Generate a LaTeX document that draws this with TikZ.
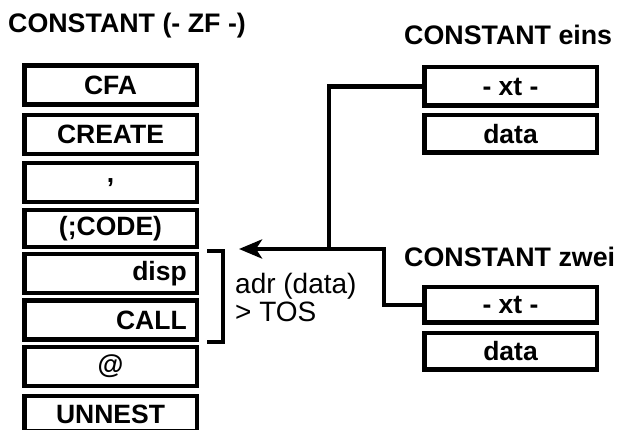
\documentclass[tikz,border=0pt]{standalone}
\usepackage{fontspec}
\setmainfont{Liberation Sans}
\usetikzlibrary{arrows.meta}
\begin{document}
\begin{tikzpicture}[x=1pt,y=-1pt,
  cell/.style={draw=black,fill=white,line width=4.5pt,minimum width=172.5pt,minimum height=39pt,
    inner sep=0pt,font=\fontsize{26.5}{30}\selectfont\bfseries},
  rcell/.style={cell,text width=152.5pt,inner xsep=10pt,align=right},
  title/.style={anchor=base west,inner sep=0pt,font=\fontsize{26.8}{30}\selectfont\bfseries},
  note/.style={anchor=base west,inner sep=0pt,font=\fontsize{28}{32}\selectfont},
  wire/.style={line width=4.5pt,line cap=butt,line join=miter}]
\clip (0,0) rectangle (622,430);
\fill[white] (0,0) rectangle (622,430);
% left column
\node[cell] (cfa) at (110.5,85) {CFA};
\node[cell] (create) at (110.5,134.5) {CREATE};
\node[cell] (comma) at (110.5,182.5) {,};
\node[cell,minimum height=37pt] (code) at (110.5,228.5) {(;CODE)};
\node[rcell] (disp) at (110.5,273.5) {disp};
\node[rcell] (call) at (110.5,320) {CALL};
\node[cell] (at) at (110.5,366.5) {@};
\node[cell,minimum height=35.5pt] (unnest) at (110.5,414) {UNNEST};
% titles
\node[title] (t1) at (8,33) {CONSTANT (- ZF -)};
\node[title] (t2) at (404,45) {CONSTANT eins};
\node[title] (t3) at (404,267) {CONSTANT zwei};
% right boxes
\node[cell,minimum height=38.5pt] (xt1) at (510.5,86.5) {- xt -};
\node[cell,minimum height=37.5pt] (data1) at (510.5,134) {data};
\node[cell,minimum height=35.5pt] (xt2) at (510.5,305) {- xt -};
\node[cell,minimum height=36.5pt] (data2) at (510.5,351.5) {data};
% notes
\node[note] (adr) at (235,294) {adr (data)};
\node[note] (tos) at (235,322) {> TOS};
% bracket
\coordinate (b1) at (207,251);
\coordinate (b2) at (207,342);
\draw[wire] (b1) -- (223,251) -- (223,342) -- (b2);
% connectors
\coordinate (tip) at (239,249);
\coordinate (join) at (329,249);
\coordinate (bend) at (384,305);
\draw[wire] (xt1.west) -| (join);
\draw[wire,-{Stealth[length=23pt,width=19pt,inset=6pt]}] (xt2.west) -- (bend) |- (tip);
\end{tikzpicture}
\end{document}
